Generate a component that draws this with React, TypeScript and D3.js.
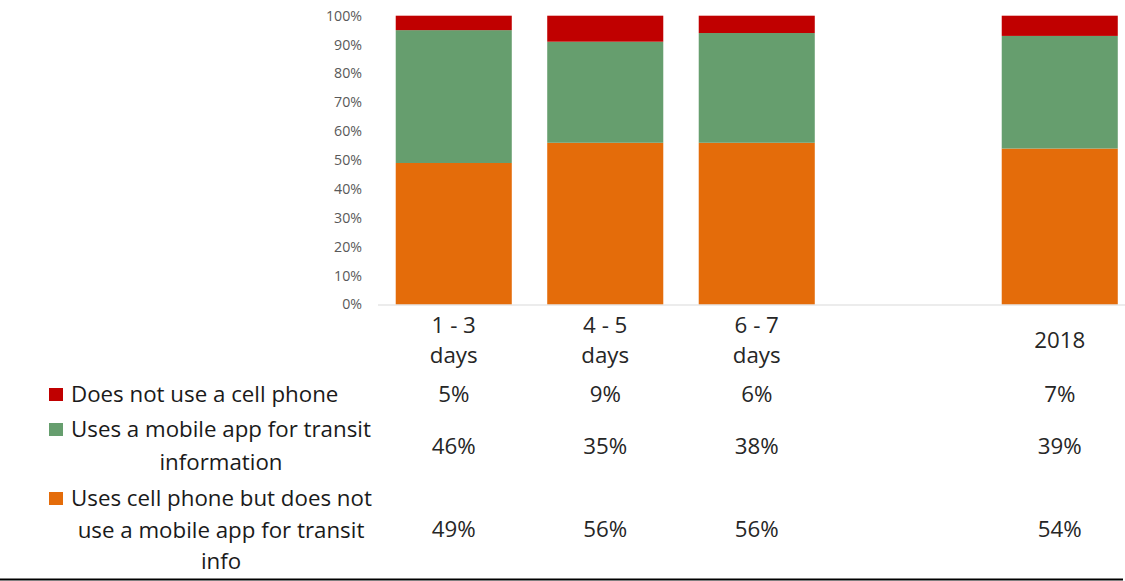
import React from "react";
import * as d3 from "d3";

const categories = ["1 - 3 days", "4 - 5 days", "6 - 7 days", "", "2018"];
const categoryLines = [["1 - 3", "days"], ["4 - 5", "days"], ["6 - 7", "days"], [], ["2018"]];
const noPhone = [5, 9, 6, null, 7];
const mobileApp = [46, 35, 38, null, 39];
const phoneNoApp = [49, 56, 56, null, 54];
const yTicks = [0, 10, 20, 30, 40, 50, 60, 70, 80, 90, 100];

const seriesNames = [
  "Does not use a cell phone",
  "Uses a mobile app for transit information",
  "Uses cell phone but does not use a mobile app for transit info",
];
const legendLines = [
  ["Does not use a cell phone"],
  ["Uses a mobile app for transit", "information"],
  ["Uses cell phone but does not", "use a mobile app for transit", "info"],
];
const colors = ["#C00000", "#669E6E", "#E46C0A"];

const W = 1125;
const H = 581;
const FONT = "'Open Sans', Lato, sans-serif";
const BIG = 22.3;

export default function App() {
  const x = d3
    .scaleBand<string>()
    .domain(categories.map((c, i) => String(i)))
    .range([378, 1135.5])
    .paddingInner(0.234)
    .paddingOuter(0.117);
  const y = d3.scaleLinear().domain([0, 100]).range([304.5, 15.7]);

  const rows = categories.map((c, i) => ({
    key: String(i),
    phoneNoApp: phoneNoApp[i] ?? 0,
    mobileApp: mobileApp[i] ?? 0,
    noPhone: noPhone[i] ?? 0,
    has: noPhone[i] != null,
  }));
  const stack = d3.stack<any>().keys(["phoneNoApp", "mobileApp", "noPhone"]);
  const stacked = stack(rows);
  const stackColors = [colors[2], colors[1], colors[0]];

  const tableSeries = [noPhone, mobileApp, phoneNoApp];
  const rowBaselines = [402, 454, 537];
  const legendBaselines = [
    [402],
    [437, 470],
    [506, 538, 569],
  ];

  return (
    <svg
      width={W}
      height={H}
      style={{ position: "absolute", left: 0, top: 0, display: "block", background: "#fff" }}
      fontFamily={FONT}
    >
      {yTicks.map((t) => (
        <text
          key={t}
          x={362}
          y={y(t)}
          dy="0.35em"
          textAnchor="end"
          fontSize={14.2}
          fill="#595959"
        >
          {t}%
        </text>
      ))}
      {stacked.map((s, si) => (
        <g key={s.key} fill={stackColors[si]}>
          {s.map((d, i) =>
            rows[i].has ? (
              <rect
                key={i}
                x={x(String(i))}
                width={x.bandwidth()}
                y={y(d[1])}
                height={y(d[0]) - y(d[1])}
              />
            ) : null
          )}
        </g>
      ))}
      <line x1={378} x2={W} y1={305} y2={305} stroke="#D9D9D9" strokeWidth={1.2} />
      {categoryLines.map((lines, i) => {
        const cx = (x(String(i)) ?? 0) + x.bandwidth() / 2;
        const base = lines.length === 1 ? 348 : 333;
        return lines.map((ln, li) => (
          <text
            key={i + "-" + li}
            x={cx}
            y={base + li * 30}
            textAnchor="middle"
            fontSize={BIG}
            fill="#262626"
          >
            {ln}
          </text>
        ));
      })}
      {seriesNames.map((name, si) => (
        <g key={name}>
          <rect x={49} y={legendBaselines[si][0] - 14} width={14} height={13} fill={colors[si]} />
          {legendLines[si].map((ln, li) => (
            <text
              key={li}
              x={li === 0 ? 71 : 221}
              y={legendBaselines[si][li]}
              textAnchor={li === 0 ? "start" : "middle"}
              fontSize={BIG}
              fill="#1a1a1a"
            >
              {ln}
            </text>
          ))}
          {tableSeries[si].map((v, i) =>
            v == null ? null : (
              <text
                key={i}
                x={(x(String(i)) ?? 0) + x.bandwidth() / 2}
                y={rowBaselines[si]}
                textAnchor="middle"
                fontSize={BIG}
                fill="#262626"
              >
                {v}%
              </text>
            )
          )}
        </g>
      ))}
      <line x1={0} x2={1123} y1={579.5} y2={579.5} stroke="#000" strokeWidth={2} />
    </svg>
  );
}
